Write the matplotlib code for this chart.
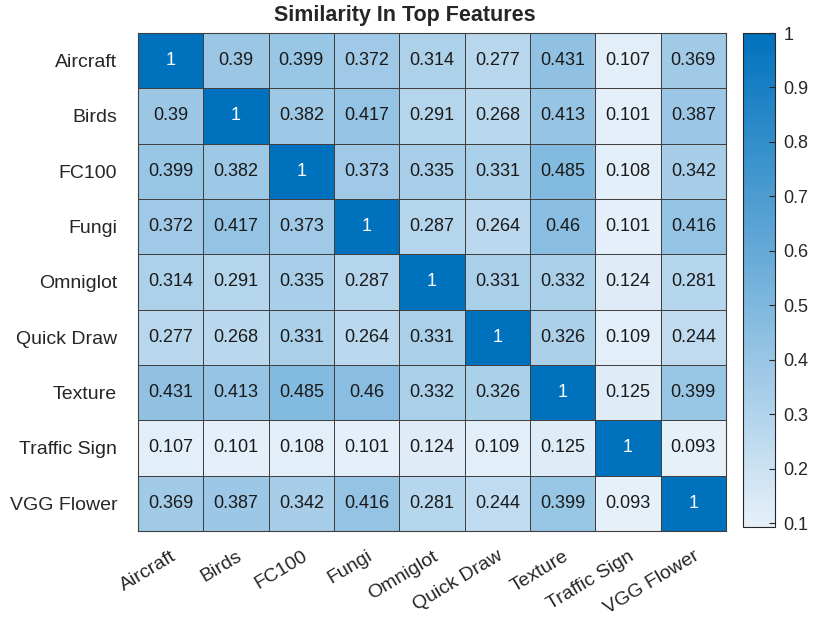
import numpy as np
import matplotlib.pyplot as plt
from matplotlib.colors import LinearSegmentedColormap

plt.rcParams['font.family'] = ['Liberation Sans', 'DejaVu Sans']

labels = ['Aircraft', 'Birds', 'FC100', 'Fungi', 'Omniglot', 'Quick Draw',
          'Texture', 'Traffic Sign', 'VGG Flower']

sim = np.array([
    [1, 0.39, 0.399, 0.372, 0.314, 0.277, 0.431, 0.107, 0.369],
    [0.39, 1, 0.382, 0.417, 0.291, 0.268, 0.413, 0.101, 0.387],
    [0.399, 0.382, 1, 0.373, 0.335, 0.331, 0.485, 0.108, 0.342],
    [0.372, 0.417, 0.373, 1, 0.287, 0.264, 0.46, 0.101, 0.416],
    [0.314, 0.291, 0.335, 0.287, 1, 0.331, 0.332, 0.124, 0.281],
    [0.277, 0.268, 0.331, 0.264, 0.331, 1, 0.326, 0.109, 0.244],
    [0.431, 0.413, 0.485, 0.46, 0.332, 0.326, 1, 0.125, 0.399],
    [0.107, 0.101, 0.108, 0.101, 0.124, 0.109, 0.125, 1, 0.093],
    [0.369, 0.387, 0.342, 0.416, 0.281, 0.244, 0.399, 0.093, 1],
])

cmap = LinearSegmentedColormap.from_list('sky', ['#E6F0F9', '#0072BD'])

fig = plt.figure(figsize=(8.22, 6.25), dpi=100)
ax = fig.add_axes([138 / 822, 1 - 531 / 625, 588 / 822, 498 / 625])
cax = fig.add_axes([743 / 822, 1 - 527 / 625, 32 / 822, 494 / 625])

mesh = ax.pcolormesh(sim, cmap=cmap, vmin=sim.min(), vmax=1,
                     edgecolor='#404040', linewidth=0.6)
ax.set_xlim(0, 9)
ax.set_ylim(9, 0)

for i in range(9):
    for j in range(9):
        v = sim[i, j]
        txt = '1' if v == 1 else f'{v:g}'
        ax.text(j + 0.5, i + 0.5, txt, ha='center', va='center', fontsize=13,
                color='white' if v > 0.7 else '#1a1a1a')

ax.set_xticks(np.arange(9) + 0.5)
ax.set_yticks(np.arange(9) + 0.5)
ax.set_xticklabels(labels, rotation=31, ha='right', rotation_mode='anchor', fontsize=14)
ax.set_yticklabels(labels, fontsize=14)
ax.tick_params(axis='y', length=0, pad=15, colors='#262626')
ax.tick_params(axis='x', length=0, pad=12, colors='#262626')
for s in ax.spines.values():
    s.set_color('#404040')
    s.set_linewidth(0.8)
fig.text(405 / 822, 1 - 16 / 625, 'Similarity In Top Features', fontsize=15.5,
         fontweight='bold', ha='center', va='center', color='#262626')

cb = fig.colorbar(mesh, cax=cax, ticks=np.arange(0.1, 1.01, 0.1))
cb.ax.set_yticklabels([f'{t:g}' for t in np.round(np.arange(0.1, 1.01, 0.1), 1)])
cb.ax.tick_params(direction='in', length=4, pad=6, labelsize=13, colors='#262626')
cb.outline.set_edgecolor('#262626')

fig.savefig('out.png', dpi=100)
